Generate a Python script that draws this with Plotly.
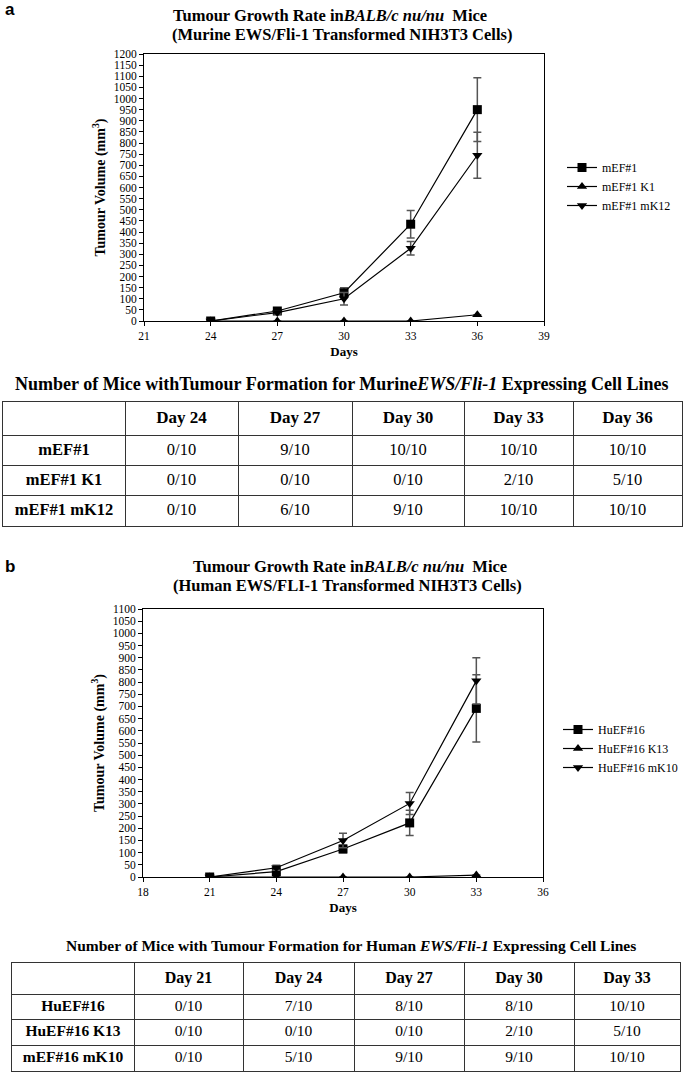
import plotly.graph_objects as go

W, H = 685, 1072

# ---------------- data ----------------
days_a = [24, 27, 30, 33, 36]
mef1 = [0, 45, 127, 435, 950]
mef1_err = [3, 8, 22, 62, 143]
mef1_k1 = [0, 0, 0, 0, 28]
mef1_k1_err = [0, 0, 0, 0, 0]
mef1_mk12 = [0, 38, 100, 327, 745]
mef1_mk12_err = [2, 6, 28, 30, 103]

days_b = [21, 24, 27, 30, 33]
huef16 = [0, 22, 115, 222, 692]
huef16_err = [2, 8, 15, 52, 138]
huef16_k13 = [0, 0, 0, 0, 8]
huef16_k13_err = [0, 0, 0, 0, 0]
huef16_mk10 = [0, 38, 150, 302, 805]
huef16_mk10_err = [2, 10, 30, 45, 95]

names_a = ["mEF#1", "mEF#1 K1", "mEF#1 mK12"]
names_b = ["HuEF#16", "HuEF#16 K13", "HuEF#16 mK10"]

table_a_header = ["Day 24", "Day 27", "Day 30", "Day 33", "Day 36"]
table_a_rows = ["mEF#1", "mEF#1 K1", "mEF#1 mK12"]
table_a_counts = [
    ["0/10", "9/10", "10/10", "10/10", "10/10"],
    ["0/10", "0/10", "0/10", "2/10", "5/10"],
    ["0/10", "6/10", "9/10", "10/10", "10/10"],
]
table_b_header = ["Day 21", "Day 24", "Day 27", "Day 30", "Day 33"]
table_b_rows = ["HuEF#16", "HuEF#16 K13", "mEF#16 mK10"]
table_b_counts = [
    ["0/10", "7/10", "8/10", "8/10", "10/10"],
    ["0/10", "0/10", "0/10", "2/10", "5/10"],
    ["0/10", "5/10", "9/10", "9/10", "10/10"],
]

# ---------------- helpers ----------------
def fx(px):
    return px / W

def fy(py):
    return 1 - py / H

SERIF = "Liberation Serif"
symbols = ["square", "triangle-up", "triangle-down"]

fig = go.Figure()

def add_series(days, ys, errs, names, xa, ya, legend):
    for y, e, n, s in zip(ys, errs, names, symbols):
        fig.add_trace(go.Scatter(
            x=days, y=y, name=n, mode="lines+markers",
            xaxis=xa, yaxis=ya, legend=legend,
            line=dict(color="black", width=1.2),
            marker=dict(symbol=s, size=9, color="black"),
            error_y=dict(type="data", array=e, visible=True,
                         color="#555555", thickness=1.5, width=4),
        ))

add_series(days_a, [mef1, mef1_k1, mef1_mk12],
           [mef1_err, mef1_k1_err, mef1_mk12_err], names_a, "x", "y", "legend")
add_series(days_b, [huef16, huef16_k13, huef16_mk10],
           [huef16_err, huef16_k13_err, huef16_mk10_err], names_b, "x2", "y2", "legend2")

# ---------------- tables drawn on their own axes ----------------
def cumsum(v):
    out = [0]
    for a in v:
        out.append(out[-1] + a)
    return out

def text_trace(xs, ys, texts, size, bold, ax_id):
    fig.add_trace(go.Scatter(
        x=xs, y=ys, text=texts, mode="text", textposition="middle center",
        textfont=dict(family=SERIF, size=size, color="black",
                      weight="bold" if bold else "normal"),
        xaxis="x%d" % ax_id, yaxis="y%d" % ax_id,
        showlegend=False, hoverinfo="skip",
    ))

def add_grid_table(ax_id, header, rows, counts, left, top, widths, heights, fs_head, fs_cell):
    xb = cumsum(widths)
    yb = cumsum(heights)
    xc = [(xb[i] + xb[i + 1]) / 2 for i in range(len(widths))]
    yc = [(yb[i] + yb[i + 1]) / 2 for i in range(len(heights))]
    # header row (bold)
    text_trace(xc[1:], [yc[0]] * len(header), header, fs_head, True, ax_id)
    # row labels (bold)
    text_trace([xc[0]] * len(rows), yc[1:], rows, fs_cell, True, ax_id)
    # counts
    xs, ys, ts = [], [], []
    for ri, row in enumerate(counts):
        for ci, val in enumerate(row):
            xs.append(xc[ci + 1])
            ys.append(yc[ri + 1])
            ts.append(val)
    text_trace(xs, ys, ts, fs_cell, False, ax_id)

    grid_style = dict(showgrid=True, gridcolor="#333333", gridwidth=1,
                      showticklabels=False, ticks="", zeroline=False,
                      showline=True, mirror=True, linecolor="#333333", linewidth=1,
                      tickmode="array", fixedrange=True)
    fig.update_layout(**{
        "xaxis%d" % ax_id: dict(domain=[fx(left), fx(left + xb[-1])],
                                range=[0, xb[-1]], tickvals=xb,
                                anchor="y%d" % ax_id, **grid_style),
        "yaxis%d" % ax_id: dict(domain=[fy(top + yb[-1]), fy(top)],
                                range=[yb[-1], 0], tickvals=yb,
                                anchor="x%d" % ax_id, **grid_style),
    })

add_grid_table(3, table_a_header, table_a_rows, table_a_counts,
               3, 401.5, [122, 113, 114, 112, 109, 109], [34, 30, 30, 30], 17, 16.5)
add_grid_table(4, table_b_header, table_b_rows, table_b_counts,
               12, 963, [122, 109, 111, 110, 110, 106], [31, 25.5, 25.5, 25.5], 16, 15.5)

# ---------------- axes ----------------
axis_common = dict(showline=True, linecolor="black", linewidth=1, mirror=True,
                   ticks="outside", ticklen=4, tickcolor="black",
                   showgrid=False, zeroline=False,
                   tickfont=dict(family=SERIF, size=11.5, color="black"))

ytitle = dict(text="<b>Tumour Volume (mm<sup>3</sup>)</b>",
              font=dict(family=SERIF, size=14, color="black"), standoff=4)
xtitle = dict(text="<b>Days</b>", font=dict(family=SERIF, size=13, color="black"),
              standoff=6)

fig.update_layout(
    width=W, height=H,
    margin=dict(l=0, r=0, t=0, b=0, autoexpand=False),
    paper_bgcolor="white", plot_bgcolor="white",
    font=dict(family=SERIF, color="black"),
    xaxis=dict(domain=[fx(144), fx(544)], range=[21, 39], dtick=3, tick0=21,
               anchor="y", title=xtitle, **axis_common),
    yaxis=dict(domain=[fy(321), fy(54)], range=[0, 1200], dtick=50,
               anchor="x", title=ytitle, **axis_common),
    xaxis2=dict(domain=[fx(143), fx(543)], range=[18, 36], dtick=3, tick0=18,
                anchor="y2", title=xtitle, **axis_common),
    yaxis2=dict(domain=[fy(877), fy(609)], range=[0, 1100], dtick=50,
                anchor="x2", title=ytitle, **axis_common),
    legend=dict(x=fx(562), y=fy(153), xanchor="left", yanchor="top",
                font=dict(family=SERIF, size=12, color="black"),
                bgcolor="rgba(0,0,0,0)", tracegroupgap=0),
    legend2=dict(x=fx(558), y=fy(715), xanchor="left", yanchor="top",
                 font=dict(family=SERIF, size=12, color="black"),
                 bgcolor="rgba(0,0,0,0)", tracegroupgap=0),
    showlegend=True,
)

def ann(text, x, y, size, family=SERIF, xanchor="center"):
    fig.add_annotation(text=text, x=fx(x), y=fy(y), xref="paper", yref="paper",
                       xanchor=xanchor, yanchor="middle", showarrow=False,
                       font=dict(family=family, size=size, color="black"))

ann("<b>a</b>", 3, 10, 17, "Liberation Sans", "left")
ann("<b>Tumour Growth Rate in<i>BALB/c nu/nu</i>  Mice</b>", 330, 15, 16.5)
ann("<b>(Murine EWS/Fli-1 Transformed NIH3T3 Cells)</b>", 342, 34, 16.5)
ann("<b>Number of Mice withTumour Formation for Murine<i>EWS/Fli-1</i> Expressing Cell Lines</b>",
    342, 384, 18)
ann("<b>b</b>", 3, 566, 17, "Liberation Sans", "left")
ann("<b>Tumour Growth Rate in<i>BALB/c nu/nu</i>  Mice</b>", 350, 566, 16.5)
ann("<b>(Human EWS/FLI-1 Transformed NIH3T3 Cells)</b>", 348, 585, 16.5)
ann("<b>Number of Mice with Tumour Formation for Human <i>EWS/Fli-1</i> Expressing Cell Lines</b>",
    351, 945, 15.5)

fig.write_html("out.html", config={"displayModeBar": False},
               post_script="document.body.style.margin='0';")
